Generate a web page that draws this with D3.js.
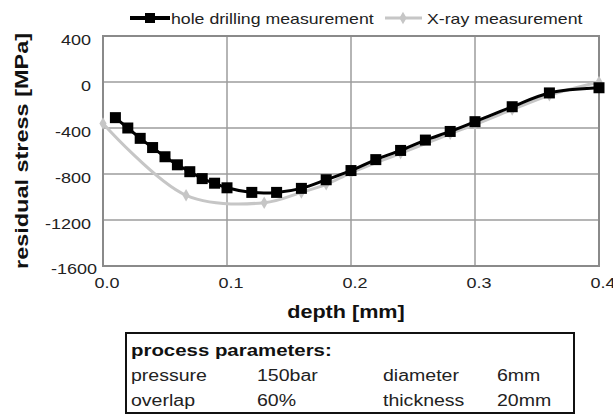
<!DOCTYPE html>
<html><head><meta charset="utf-8">
<script src="https://cdn.jsdelivr.net/npm/d3@7"></script>
<style>
html,body{margin:0;padding:0;background:#fff;}
svg{display:block;font-family:"Liberation Sans",Arial,sans-serif;}
</style></head>
<body>
<svg id="chart" width="613" height="415"></svg>
<script>
// ---- data ----
const holeDepth  = [0.01,0.02,0.03,0.04,0.05,0.06,0.07,0.08,0.09,0.10,0.12,0.14,0.16,0.18,0.20,0.22,0.24,0.26,0.28,0.30,0.33,0.36,0.40];
const holeStress = [-310,-400,-490,-570,-650,-720,-780,-840,-880,-920,-960,-960,-925,-850,-770,-675,-595,-505,-430,-345,-215,-95,-50];
const xrayDepth  = [0,0.067,0.13,0.16,0.18,0.20,0.24,0.28,0.30,0.33,0.36,0.40];
const xrayStress = [-360,-985,-1050,-960,-890,-790,-620,-450,-370,-240,-115,0];
const xTicks = [0,0.1,0.2,0.3,0.4];
const yTicks = [400,0,-400,-800,-1200,-1600];
const seriesNames = ["hole drilling measurement","X-ray measurement"];
const xTitle = "depth [mm]";
const yTitle = "residual stress [MPa]";
const paramTitle = "process parameters:";
const paramRows = [["pressure","150bar","diameter","6mm"],["overlap","60%","thickness","20mm"]];

// ---- layout ----
const svg = d3.select("#chart");
const L = 103, R = 599, T = 36, B = 266;
const x = d3.scaleLinear().domain([0,0.4]).range([L,R]);
const y = d3.scaleLinear().domain([-1600,400]).range([B,T]);
const SX = 1.2; // horizontal stretch of the original image
function stretch(sel, f){ sel.each(function(){ const n=this.getComputedTextLength(); this.setAttribute("textLength", n*(f||SX)); this.setAttribute("lengthAdjust","spacingAndGlyphs"); }); return sel; }

const gridC = "#9c9c9c";
// grid
svg.append("g").selectAll("line").data(yTicks).join("line")
  .attr("x1",L).attr("x2",R).attr("y1",d=>y(d)).attr("y2",d=>y(d))
  .attr("stroke",gridC).attr("stroke-width",1.5);
svg.append("g").selectAll("line").data(xTicks).join("line")
  .attr("y1",T).attr("y2",B).attr("x1",d=>x(d)).attr("x2",d=>x(d))
  .attr("stroke",gridC).attr("stroke-width",1.5);
svg.append("rect").attr("x",L).attr("y",T).attr("width",R-L).attr("height",B-T)
  .attr("fill","none").attr("stroke","#8a8a8a").attr("stroke-width",2);

// tick labels
stretch(svg.append("g").selectAll("text").data(yTicks).join("text")
  .attr("x",d=>d===-1600?97:91).attr("y",d=>y(d)+(d===-1600?8:9))
  .attr("text-anchor","end").attr("font-size",15).attr("fill","#222")
  .text(d=>String(d)));
stretch(svg.append("g").selectAll("text").data(xTicks).join("text")
  .attr("x",d=>x(d)+4).attr("y",288)
  .attr("text-anchor","middle").attr("font-size",15).attr("fill","#222")
  .text(d=>d.toFixed(1)));

// axis titles
stretch(svg.append("text").attr("x",346).attr("y",318).attr("text-anchor","middle")
  .attr("font-size",18).attr("font-weight","bold").attr("fill","#111").text(xTitle));
svg.append("text").attr("transform","translate(28,151) rotate(-90)")
  .attr("text-anchor","middle").attr("font-size",19).attr("font-weight","bold").attr("fill","#111")
  .attr("textLength",236).attr("lengthAdjust","spacingAndGlyphs").text(yTitle);

// series
const line = d3.line().curve(d3.curveCatmullRom.alpha(0.5));
const xrayPts = xrayDepth.map((d,i)=>[x(d),y(xrayStress[i])]);
const holePts = holeDepth.map((d,i)=>[x(d),y(holeStress[i])]);
const grayC = "#c6c6c6";
svg.append("path").attr("d",line(xrayPts)).attr("fill","none").attr("stroke",grayC).attr("stroke-width",3);
const diamond = d3.symbol().type(d3.symbolDiamond).size(45);
svg.append("g").selectAll("path").data(xrayPts).join("path")
  .attr("transform",d=>`translate(${d[0]},${d[1]})`).attr("d",diamond).attr("fill",grayC);
svg.append("path").attr("d",line(holePts)).attr("fill","none").attr("stroke","#000").attr("stroke-width",3);
svg.append("g").selectAll("rect").data(holePts).join("rect")
  .attr("x",d=>d[0]-5.5).attr("y",d=>d[1]-5.5).attr("width",11).attr("height",11).attr("fill","#000");

// legend
const lg = svg.append("g");
lg.append("line").attr("x1",130).attr("x2",170).attr("y1",18).attr("y2",18).attr("stroke","#000").attr("stroke-width",4);
lg.append("rect").attr("x",145).attr("y",13).attr("width",10).attr("height",10).attr("fill","#000");
stretch(lg.append("text").attr("x",171).attr("y",24).attr("font-size",15).attr("fill","#222").text(seriesNames[0]),1.18);
lg.append("line").attr("x1",385).attr("x2",422).attr("y1",18).attr("y2",18).attr("stroke",grayC).attr("stroke-width",3);
lg.append("path").attr("transform","translate(403,18)").attr("d",diamond).attr("fill",grayC);
stretch(lg.append("text").attr("x",427).attr("y",24).attr("font-size",15).attr("fill","#222").text(seriesNames[1]),1.18);

// process parameters box
const bx = svg.append("g");
bx.append("rect").attr("x",126).attr("y",333).attr("width",448).attr("height",80)
  .attr("fill","#fff").attr("stroke","#111").attr("stroke-width",2);
stretch(bx.append("text").attr("x",131).attr("y",356).attr("font-size",17).attr("font-weight","bold").attr("fill","#111").text(paramTitle));
const colX = [131,257,383,497];
paramRows.forEach((row,ri)=>{
  row.forEach((t,ci)=>{
    stretch(bx.append("text").attr("x",colX[ci]).attr("y",381+ri*25).attr("font-size",16).attr("fill","#222").text(t),1.22);
  });
});
</script>
</body></html>
